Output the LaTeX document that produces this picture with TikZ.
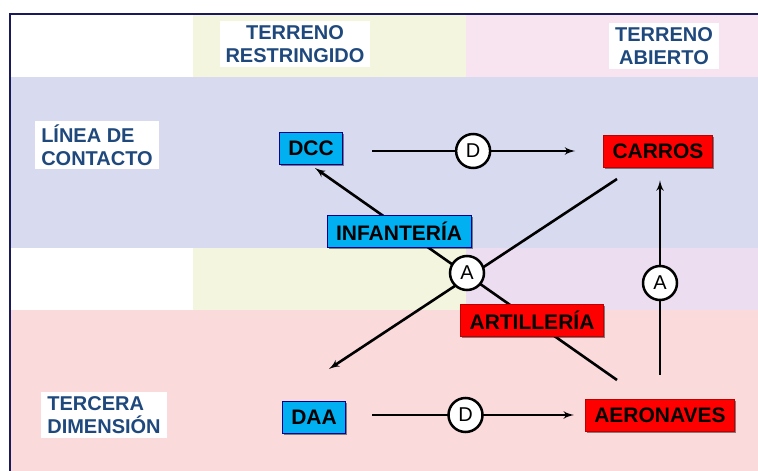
\documentclass[tikz,border=0pt]{standalone}
\usepackage{fontspec}
\setmainfont{Liberation Sans}
\usepackage{tikz}
\usetikzlibrary{arrows}
\usetikzlibrary{shadows}
\usetikzlibrary{positioning}

\definecolor{marco}{RGB}{26,26,90}
\definecolor{rotulo}{RGB}{31,73,125}
\definecolor{celeste}{RGB}{0,176,240}
\definecolor{rojo}{RGB}{255,0,0}
\definecolor{fondoazul}{RGB}{216,218,240}
\definecolor{fondoamarillo}{RGB}{244,245,222}
\definecolor{fondorosa}{RGB}{248,228,240}
\definecolor{fondolila}{RGB}{236,222,240}
\definecolor{fondorojo}{RGB}{250,218,218}

\tikzset{caja/.style = {font=\fontsize{21}{24}\selectfont\bfseries, text=black,
                        inner xsep=9pt, inner ysep=0pt, minimum height=32pt,
                        line width=0.6pt,
                        drop shadow={shadow xshift=1.5pt, shadow yshift=-1.5pt,
                                     fill=black, opacity=0.45}}}
\tikzset{azul/.style = {caja, fill=celeste, draw=blue!55!black}}
\tikzset{roja/.style = {caja, fill=rojo, draw=red!75!black}}
\tikzset{circ/.style = {circle, draw, line width=2.5pt, fill=white, inner sep=0,
                        minimum size=34pt, font=\fontsize{20}{20}\selectfont}}
\tikzset{rot/.style = {fill=white, text=rotulo, inner xsep=6pt, inner ysep=4pt,
                       font=\fontsize{20}{23}\selectfont\bfseries}}
\tikzset{flecha/.style = {line width=2.6pt, -latex'}}

\begin{document}
\begin{tikzpicture}[x=1pt, y=-1pt]
    \useasboundingbox (0, 0) rectangle (758, 471);

    % fondos
    \fill [fondoamarillo] (193, 14) rectangle (466, 77);
    \fill [fondorosa] (466, 14) rectangle (758, 77);
    \fill [fondoazul] (10, 77) rectangle (758, 248);
    \fill [fondoamarillo] (193, 248) rectangle (466, 310);
    \fill [fondolila] (466, 248) rectangle (758, 310);
    \fill [fondorojo] (10, 310) rectangle (758, 471);
    \draw [marco, line width=2.5pt] (10, 471) -- (10, 14) -- (758, 14);

    % rotulos
    \node [rot, align=center] (restringido) at (295, 44) {TERRENO\\RESTRINGIDO};
    \node [rot, align=center] (abierto) at (664, 46) {TERRENO\\ABIERTO};
    \node [rot, align=left] (contacto) at (97, 145) {LÍNEA DE\\CONTACTO};
    \node [rot, align=left] (tercera) at (104, 415) {TERCERA\\DIMENSIÓN};

    % cajas
    \node [azul] (dcc) at (311, 148) {DCC};
    \node [roja] (carros) at (658, 151) {CARROS};
    \node [azul] (daa) at (314, 417) {DAA};
    \node [roja] (aeronaves) at (660, 415) {AERONAVES};

    % cruce
    \coordinate (carrosext) at (617, 179);
    \coordinate (daaext) at (329, 369);
    \coordinate (aeroext) at (617, 380);
    \coordinate (dccext) at (315, 168);
    \draw [flecha] (carrosext) -- (daaext);
    \draw [flecha] (aeroext) -- (dccext);
    \node [circ] (a1) at (467, 273) {A};
    \node [azul] (infanteria) at (399, 231) {INFANTERÍA};
    \node [roja] (artilleria) at (532, 320) {ARTILLERÍA};

    % horizontales y vertical
    \draw [flecha, shorten <=29pt, shorten >=28pt] (dcc.east |- carros) -- (carros.west)
        node [circ, pos=0.5] (d1) {D};
    \draw [flecha, shorten <=26pt, shorten >=11pt] (daa.east |- aeronaves) -- (aeronaves.west)
        node [circ, pos=0.5] (d2) {D};
    \draw [flecha, shorten <=24pt, shorten >=13pt] (aeronaves.north) -- (aeronaves.north |- carros.south)
        node [circ, pos=0.5] (a2) {A};
\end{tikzpicture}
\end{document}
